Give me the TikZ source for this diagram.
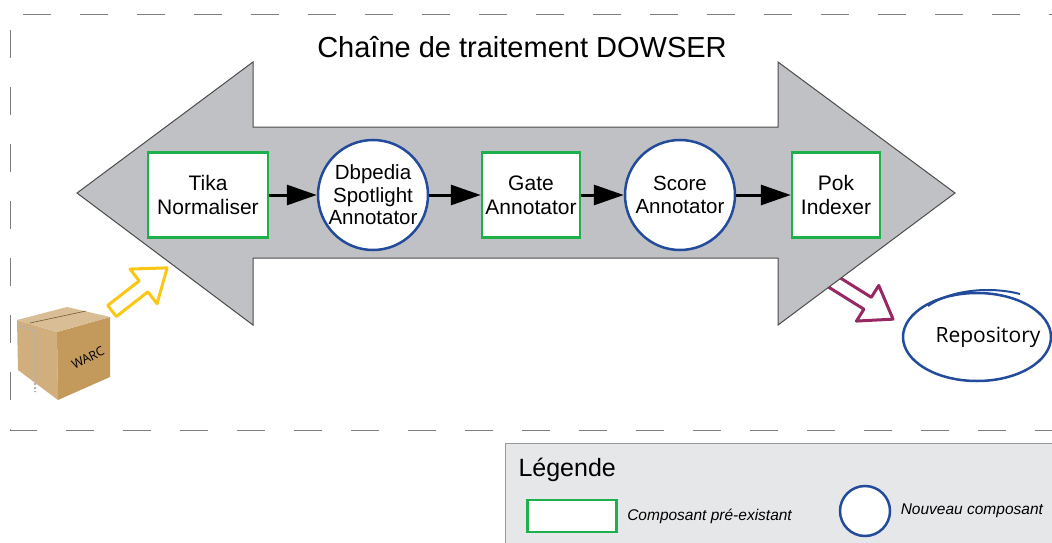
\documentclass[tikz,border=0pt]{standalone}
\usepackage{fontspec}
\setmainfont{Liberation Sans}
\newfontfamily\handfont{Open Sans}
\usetikzlibrary{arrows.meta}

\definecolor{boxgreen}{RGB}{30,176,75}
\definecolor{circblue}{RGB}{35,75,155}
\definecolor{chaingray}{RGB}{192,193,196}
\definecolor{legendgray}{RGB}{230,231,232}
\definecolor{inyellow}{RGB}{250,200,20}
\definecolor{outpurple}{RGB}{150,40,100}
\definecolor{cardboard}{RGB}{196,154,92}

\begin{document}
\begin{tikzpicture}[x=1pt,y=-1pt,
    comp/.style={draw=boxgreen, line width=2.5pt, fill=white, minimum height=85pt,
      align=center, font=\fontsize{21}{24}\selectfont},
    newcomp/.style={circle, draw=circblue, line width=2.5pt, fill=white, inner sep=0pt,
      align=center, font=\fontsize{20.5}{22.5}\selectfont},
    flow/.style={line width=3pt, -{Triangle[length=30pt,width=20pt]}},
    hollow/.style={line width=3pt, fill=white, line join=round},
    frame/.style={gray, line width=1pt, dash pattern=on 28pt off 29pt}]
  \useasboundingbox (0,0) rectangle (1052,543);

  \draw[frame] (23,15) -- (1070,15);
  \draw[frame] (10,30) -- (10,430) -- (1070,430);

  % entree et sortie de la chaine
  \begin{scope}[shift={(112,311)}, rotate=38]
    \draw[hollow, draw=inyellow] (0,-7) -- (40,-7) -- (40,-22) -- (70,0) -- (40,22) -- (40,7) -- (0,7) -- cycle;
  \end{scope}
  \begin{scope}[shift={(832,281)}, rotate=-32]
    \draw[hollow, draw=outpurple] (0,-7) -- (42,-7) -- (42,-21) -- (72,0) -- (42,21) -- (42,7) -- (0,7) -- cycle;
  \end{scope}

  \draw[draw=black!70, line width=1pt, fill=chaingray]
    (77,193) -- (253,62) -- (253,127) -- (778,127) -- (778,62) -- (955,193)
    -- (778,325) -- (778,258) -- (253,258) -- (253,325) -- cycle;

  \node[font=\fontsize{29}{34}\selectfont] (title) at (522,47) {Chaîne de traitement DOWSER};

  \node[comp, minimum width=120pt] (tika) at (208,195) {Tika\\Normaliser};
  \node[newcomp, minimum size=110pt] (dbpedia) at (373,195) {Dbpedia\\Spotlight\\Annotator};
  \node[comp, minimum width=98pt] (gate) at (531,195) {Gate\\Annotator};
  \node[newcomp, minimum size=110pt] (score) at (680,195) {Score\\Annotator};
  \node[comp, minimum width=88pt] (pok) at (836,195) {Pok\\Indexer};
  \foreach \a/\b in {tika/dbpedia, dbpedia/gate, gate/score, score/pok}
    \draw[flow] (\a) -- (\b);

  % archive WARC
  \fill[cardboard!80!white] (17,320) -- (57,332) -- (58,400) -- (18,370) -- cycle;
  \fill[cardboard] (57,332) -- (110,317) -- (110,377) -- (58,400) -- cycle;
  \fill[cardboard!65!white] (17,320) -- (67,307) -- (110,317) -- (57,332) -- cycle;
  \draw[cardboard!60!black, line width=0.6pt] (30,323) -- (86,311);
  \draw[gray!60, line width=2pt, dash pattern=on 2pt off 2pt] (20,326) -- (35,331) -- (35,392);
  \node[font=\handfont\fontsize{12.5}{15}\selectfont, rotate=27] (warc) at (88,358) {WARC};

  \node[font=\handfont\fontsize{21}{25}\selectfont] (repo) at (988,337) {Repository};
  \draw[circblue, line width=2.5pt] (977,337) ellipse [x radius=74pt, y radius=44pt];
  \draw[circblue, line width=2pt] (928,306) .. controls (950,290) and (990,286) .. (1020,294);

  % legende
  \draw[draw=gray!80, fill=legendgray, line width=1pt] (505,443) rectangle (1070,560);
  \node[anchor=base west, font=\fontsize{25}{30}\selectfont] (legend) at (515,476) {Légende};
  \node[comp, minimum width=89pt, minimum height=32pt] (oldkey) at (572,516) {};
  \node[anchor=west, xshift=6pt, font=\itshape\fontsize{15.5}{18}\selectfont] (oldtext) at (oldkey.east) {Composant pré-existant};
  \node[newcomp, minimum size=50pt] (newkey) at (865,511) {};
  \node[anchor=west, xshift=6pt, font=\itshape\fontsize{15.5}{18}\selectfont] (newtext) at (newkey.east) {Nouveau composant};
\end{tikzpicture}
\end{document}
